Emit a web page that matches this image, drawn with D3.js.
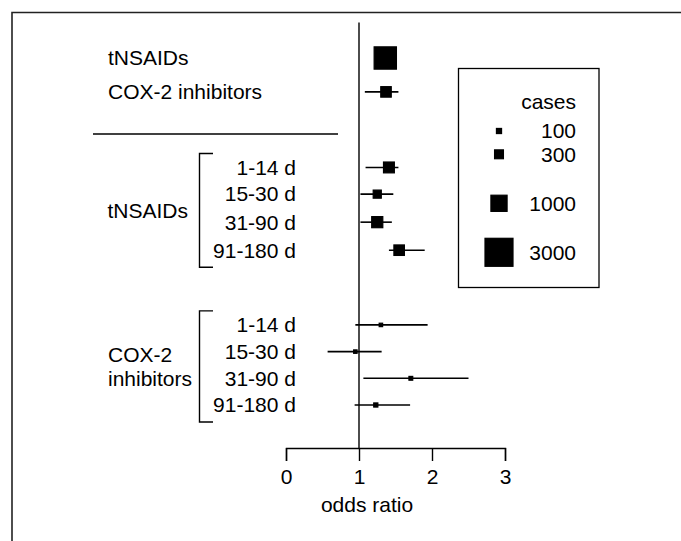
<!DOCTYPE html>
<html lang="en">
<head>
<meta charset="UTF-8">
<title>odds ratio forest plot</title>
<script src="https://cdn.jsdelivr.net/npm/d3@7/dist/d3.min.js"></script>
<style>
  body { margin: 0; background: #fff; }
  text { font-family: Arial, "Liberation Sans", sans-serif; font-size: 21px; fill: #000; }
</style>
</head>
<body>
<svg width="681" height="541" id="mainsvg"></svg>
<script>
  // data
  const overallLabels = ['tNSAIDs', 'COX-2 inhibitors']
  const overallOR = [1.36, 1.37]
  const overallLo = [1.31, 1.08]
  const overallHi = [1.42, 1.54]
  const overallCases = [1900, 420]

  const periods = ['1-14 d', '15-30 d', '31-90 d', '91-180 d']
  const tnsaidOR = [1.41, 1.25, 1.25, 1.55]
  const tnsaidLo = [1.09, 1.02, 1.02, 1.41]
  const tnsaidHi = [1.54, 1.47, 1.45, 1.90]
  const tnsaidCases = [450, 250, 470, 420]

  const coxOR = [1.30, 0.95, 1.71, 1.23]
  const coxLo = [0.95, 0.57, 1.06, 0.94]
  const coxHi = [1.94, 1.31, 2.50, 1.70]
  const coxCases = [45, 45, 55, 65]

  const legendCases = [100, 300, 1000, 3000]
  const xTicks = [0, 1, 2, 3]

  const svg = d3.select('#mainsvg')

  // frame (top and left edges only)
  svg.append('path')
    .attr('d', 'M12,541 V12.5 H681')
    .attr('fill', 'none').attr('stroke', '#222').attr('stroke-width', 1.6)

  const xScale = d3.scaleLinear().domain([0, 3]).range([286, 505])
  // row slots -> vertical position
  const yScale = d3.scaleLinear().domain([0, 13]).range([58, 405])
  const side = d3.scaleSqrt().domain([0, 3000]).range([0, 28])

  const rows = []
  overallLabels.forEach((l, i) => rows.push({slot: [0, 1.27][i], or: overallOR[i], lo: overallLo[i], hi: overallHi[i], n: overallCases[i]}))
  const tSlots = [4.1, 5.1, 6.15, 7.2]
  const cSlots = [10, 11, 12, 13]
  periods.forEach((p, i) => rows.push({slot: tSlots[i], label: p, or: tnsaidOR[i], lo: tnsaidLo[i], hi: tnsaidHi[i], n: tnsaidCases[i]}))
  periods.forEach((p, i) => rows.push({slot: cSlots[i], label: p, or: coxOR[i], lo: coxLo[i], hi: coxHi[i], n: coxCases[i]}))

  // x axis
  const xAxis = d3.axisBottom(xScale).tickValues(xTicks).tickFormat(d3.format('d'))
    .tickSize(13).tickPadding(8)
  const axisG = svg.append('g').attr('transform', 'translate(0,448)').call(xAxis)
  axisG.select('.domain').attr('stroke-width', 1.4)
  axisG.selectAll('.tick line').attr('stroke-width', 1.4)
  axisG.selectAll('.tick text').attr('font-size', 21).attr('font-family', 'Arial, "Liberation Sans", sans-serif')

  svg.append('text').attr('x', 367).attr('y', 512).attr('text-anchor', 'middle').text('odds ratio')

  // reference line at OR = 1
  svg.append('line')
    .attr('x1', xScale(1)).attr('x2', xScale(1))
    .attr('y1', 22.5).attr('y2', 448)
    .attr('stroke', '#000').attr('stroke-width', 1.4)

  // CI lines and squares
  const g = svg.append('g')
  g.selectAll('.ci').data(rows).join('line').attr('class', 'ci')
    .attr('x1', d => xScale(d.lo)).attr('x2', d => xScale(d.hi))
    .attr('y1', d => yScale(d.slot)).attr('y2', d => yScale(d.slot))
    .attr('stroke', '#000').attr('stroke-width', 1.6)
  g.selectAll('.sq').data(rows).join('rect').attr('class', 'sq')
    .attr('x', d => xScale(d.or) - side(d.n) / 2)
    .attr('y', d => yScale(d.slot) - side(d.n) / 2)
    .attr('width', d => side(d.n)).attr('height', d => side(d.n))
    .attr('fill', '#000').attr('stroke', '#000').attr('stroke-width', 1.2)

  // top labels
  overallLabels.forEach((l, i) => {
    svg.append('text').attr('x', 108).attr('y', yScale(rows[i].slot)).attr('dy', '0.35em').text(l)
  })

  svg.append('line').attr('x1', 93).attr('x2', 338).attr('y1', 134).attr('y2', 134)
    .attr('stroke', '#000').attr('stroke-width', 1.4)

  // row labels
  rows.slice(2).forEach(r => {
    svg.append('text').attr('x', 296).attr('y', yScale(r.slot)).attr('dy', '0.35em')
      .attr('text-anchor', 'end').text(r.label)
  })

  // brackets + group labels
  const bracket = (slots, lines, anchor, lx) => {
    const top = yScale(slots[0]) - 14
    const bot = yScale(slots[slots.length - 1]) + 17
    svg.append('path')
      .attr('d', `M213,${top} H199.5 V${bot} H213`)
      .attr('fill', 'none').attr('stroke', '#000').attr('stroke-width', 1.4)
    const mid = (top + bot) / 2
    lines.forEach((t, i) => {
      svg.append('text').attr('x', lx).attr('y', mid + (i - (lines.length - 1) / 2) * 24)
        .attr('dy', '0.35em').attr('text-anchor', anchor).text(t)
    })
  }
  bracket(tSlots, ['tNSAIDs'], 'end', 188)
  bracket(cSlots, ['COX-2', 'inhibitors'], 'start', 108)

  // legend
  svg.append('rect').attr('x', 458.5).attr('y', 68.5).attr('width', 140.5).attr('height', 219)
    .attr('fill', 'none').attr('stroke', '#000').attr('stroke-width', 1.3)
  svg.append('text').attr('x', 576).attr('y', 101.5).attr('dy', '0.35em').attr('text-anchor', 'end').text('cases')
  const legendY = [131, 154.3, 203.3, 252.3]
  legendCases.forEach((c, i) => {
    const s = side(c)
    svg.append('rect').attr('x', 499 - s / 2).attr('y', legendY[i] - s / 2)
      .attr('width', s).attr('height', s)
      .attr('fill', '#000').attr('stroke', '#000').attr('stroke-width', 1.2)
    svg.append('text').attr('x', 576).attr('y', legendY[i]).attr('dy', '0.35em')
      .attr('text-anchor', 'end').text(c)
  })
</script>
</body>
</html>
